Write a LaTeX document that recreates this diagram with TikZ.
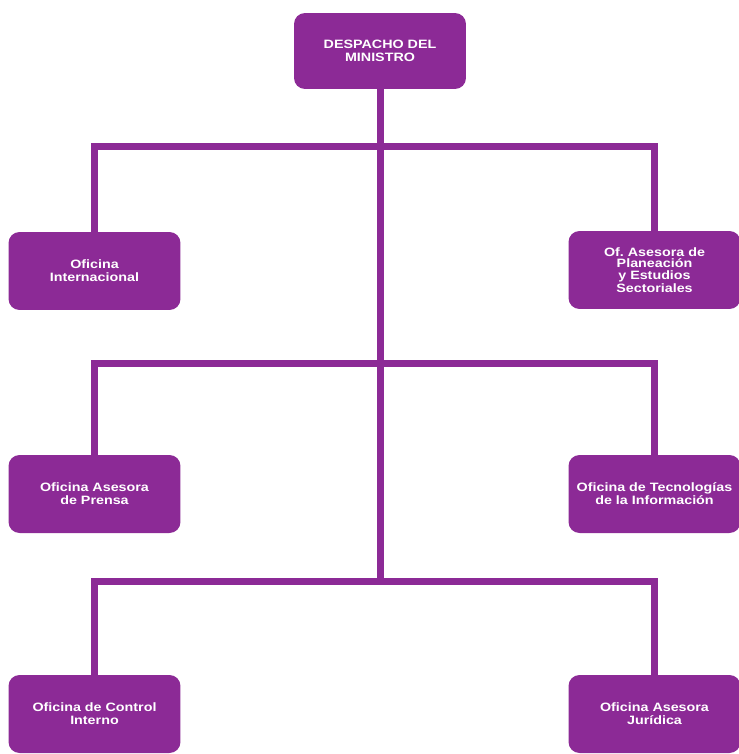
\documentclass[tikz,border=0pt]{standalone}
\usepackage{fontspec}
\setmainfont[FakeStretch=1.18]{Liberation Sans}
\definecolor{morado}{RGB}{140,42,150}
\begin{document}
\begin{tikzpicture}[x=0.02cm,y=-0.02cm]
\tikzstyle{every node}+=[inner sep=0pt]
\tikzstyle{oficina}=[fill=morado,rounded corners=0.22cm,minimum width=3.44cm,minimum height=1.56cm,
  text=white,align=center,font=\fontsize{6.9}{7.5}\selectfont\bfseries]
\tikzstyle{enlace}=[draw=morado,line width=0.14cm]
\useasboundingbox (0,0) rectangle (738,754);
% despacho
\node [oficina,minimum height=1.52cm] (desp) at (380,51) {DESPACHO DEL\\MINISTRO};
% primer nivel
\node [oficina] (inter) at (94.5,271) {Oficina\\Internacional};
\node [oficina,font=\fontsize{6.9}{6.4}\selectfont\bfseries] (plan) at (654.5,270) {Of.\ Asesora de\\Planeaci\'on\\y Estudios\\Sectoriales};
% segundo nivel
\node [oficina] (prensa) at (94.5,494) {Oficina Asesora\\de Prensa};
\node [oficina] (tic) at (654.5,494) {Oficina de Tecnolog\'ias\\de la Informaci\'on};
% tercer nivel
\node [oficina] (control) at (94.5,714) {Oficina de Control\\Interno};
\node [oficina] (juridica) at (654.5,714) {Oficina Asesora\\Jur\'idica};
% uniones
\coordinate (u1) at (380,146);
\coordinate (u2) at (380,363);
\coordinate (u3) at (380,581);
\draw [enlace] (desp.south) -- (u3);
\draw [enlace] (inter.north) |- (u1) -| (plan.north);
\draw [enlace] (prensa.north) |- (u2) -| (tic.north);
\draw [enlace] (control.north) |- (u3) -| (juridica.north);
\end{tikzpicture}
\end{document}
